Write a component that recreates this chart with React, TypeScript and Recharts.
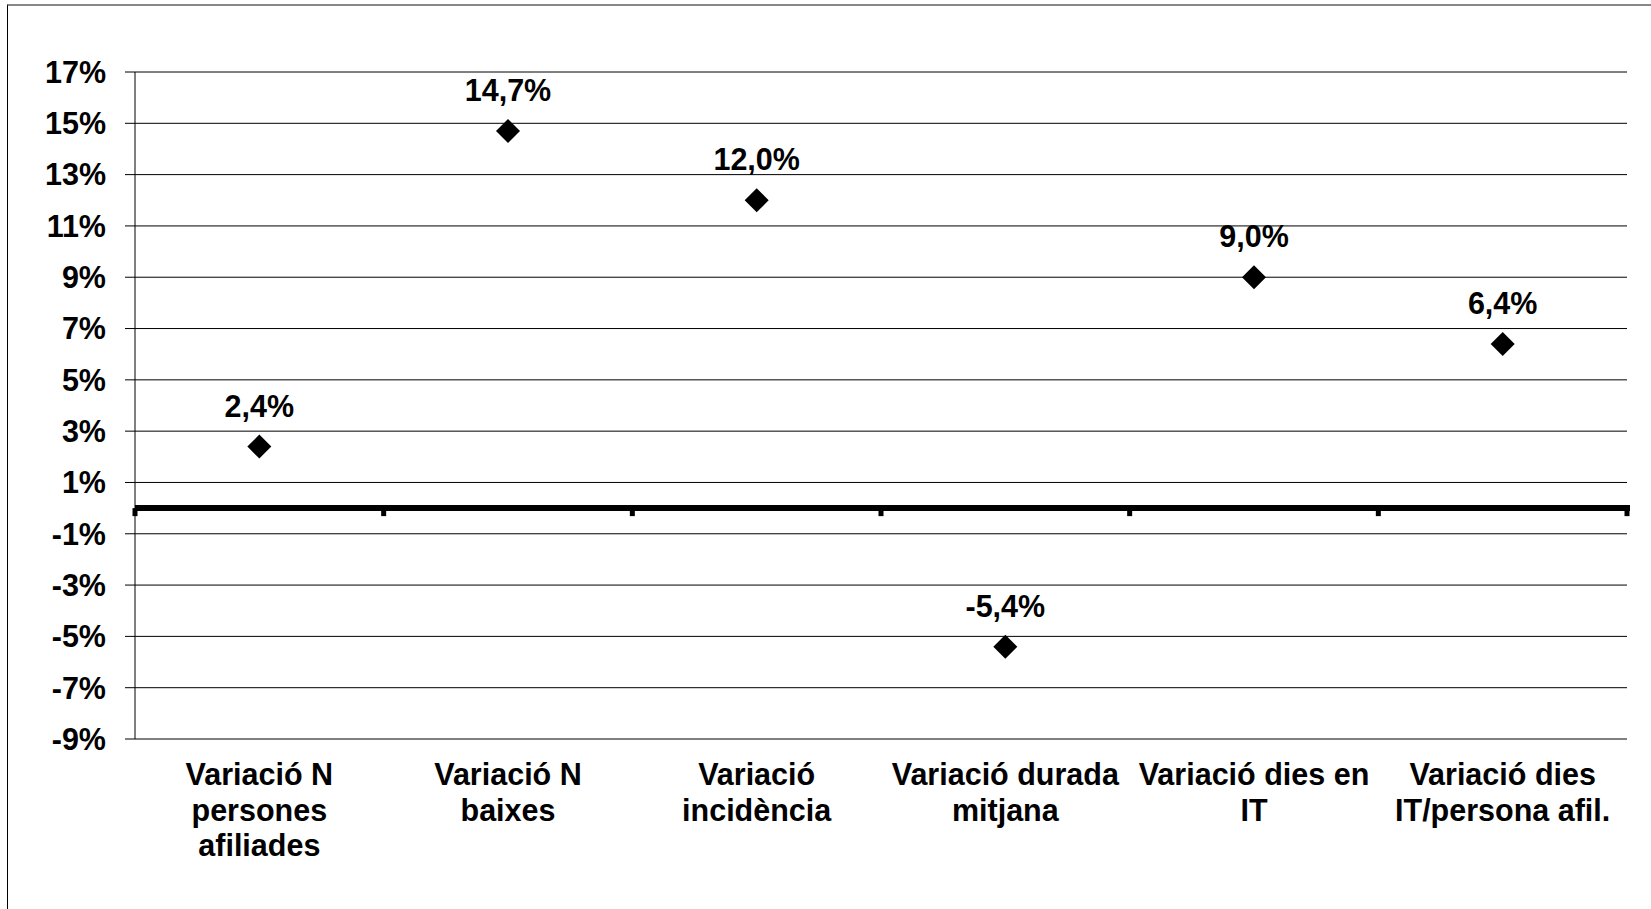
import React from 'react';
import {
  ComposedChart,
  Line,
  XAxis,
  YAxis,
  CartesianGrid,
  ReferenceLine,
  LabelList,
} from 'recharts';

// Variation indicators, one point per category.
const categories = [
  'Variació N\npersones\nafiliades',
  'Variació N\nbaixes',
  'Variació\nincidència',
  'Variació durada\nmitjana',
  'Variació dies en\nIT',
  'Variació dies\nIT/persona afil.',
];
const values = [2.4, 14.7, 12.0, -5.4, 9.0, 6.4];
const yTicks = [-9, -7, -5, -3, -1, 1, 3, 5, 7, 9, 11, 13, 15, 17];

const FONT = '"Liberation Sans", Arial, Helvetica, sans-serif';
const FONT_SIZE = 30.5;

const rows = categories.map((name, i) => ({ name, value: values[i] }));

const fmtPct = (v: number) => `${v.toFixed(1).replace('.', ',')}%`;

function CategoryTick({ x, y, payload }: any) {
  const lines = String(payload.value).split('\n');
  return (
    <text x={x} y={y} textAnchor="middle" fill="#000" fontSize={FONT_SIZE} fontWeight="bold" fontFamily={FONT}>
      {lines.map((l, i) => (
        <tspan key={i} x={x} dy={i === 0 ? 46 : 35.5}>
          {l}
        </tspan>
      ))}
    </text>
  );
}

function Diamond({ cx, cy }: any) {
  if (cx == null || cy == null) return null;
  const r = 12;
  return <path d={`M${cx},${cy - r}L${cx + r},${cy}L${cx},${cy + r}L${cx - r},${cy}Z`} fill="#000" />;
}

function ValueLabel({ x, y, value }: any) {
  return (
    <text x={x} y={y - 30} textAnchor="middle" fill="#000" fontSize={FONT_SIZE} fontWeight="bold" fontFamily={FONT}>
      {fmtPct(Number(value))}
    </text>
  );
}

// zero line: thick, with small tick marks at the category boundaries
function ZeroLine(props: any) {
  const { x1, x2, y1 } = props;
  const n = rows.length;
  const marks = [];
  for (let k = 0; k <= n; k++) {
    const mx = x1 + ((x2 - x1) * k) / n;
    marks.push(<rect key={k} x={mx - 2.5} y={y1} width={5} height={8} fill="#000" />);
  }
  return (
    <g>
      <line x1={x1} y1={y1} x2={x2 + 3} y2={y1} stroke="#000" strokeWidth={6} />
      {marks}
    </g>
  );
}

export default function App() {
  return (
    <div style={{ position: 'absolute', left: 0, top: 0, width: 1651, height: 909, overflow: 'hidden', background: '#fff', fontFamily: FONT }}>
      <div
        style={{
          position: 'absolute',
          left: 7,
          top: 4,
          width: 1700,
          height: 1000,
          borderLeft: '1px solid #000',
          borderTop: '2px solid #888',
        }}
      />
      <div style={{ position: 'absolute', left: 0, top: 0 }}>
        <ComposedChart width={1651} height={909} data={rows} margin={{ top: 72, right: 24, bottom: 0, left: 0 }}>
          <CartesianGrid vertical={false} stroke="#000" strokeWidth={1} />
          <XAxis
            dataKey="name"
            scale="band"
            interval={0}
            height={170}
            axisLine={{ stroke: '#808080', strokeWidth: 2 }}
            tickLine={false}
            tickSize={0}
            tickMargin={0}
            tick={<CategoryTick />}
          />
          <YAxis
            domain={[-9, 17]}
            ticks={yTicks}
            interval={0}
            width={135}
            tickSize={10}
            tickMargin={19}
            tickFormatter={(v: number) => `${v}%`}
            axisLine={{ stroke: '#000', strokeWidth: 1 }}
            tickLine={{ stroke: '#000' }}
            tick={{ fill: '#000', fontSize: FONT_SIZE, fontWeight: 'bold', fontFamily: FONT }}
          />
          <YAxis
            yAxisId="r"
            orientation="right"
            domain={[-9, 17]}
            width={0}
            tick={false}
            tickLine={false}
            axisLine={{ stroke: '#808080', strokeWidth: 2 }}
          />
          <ReferenceLine y={0} shape={<ZeroLine />} />
          <Line dataKey="value" stroke="none" dot={<Diamond />} activeDot={false} isAnimationActive={false}>
            <LabelList dataKey="value" content={<ValueLabel />} />
          </Line>
        </ComposedChart>
      </div>
    </div>
  );
}
